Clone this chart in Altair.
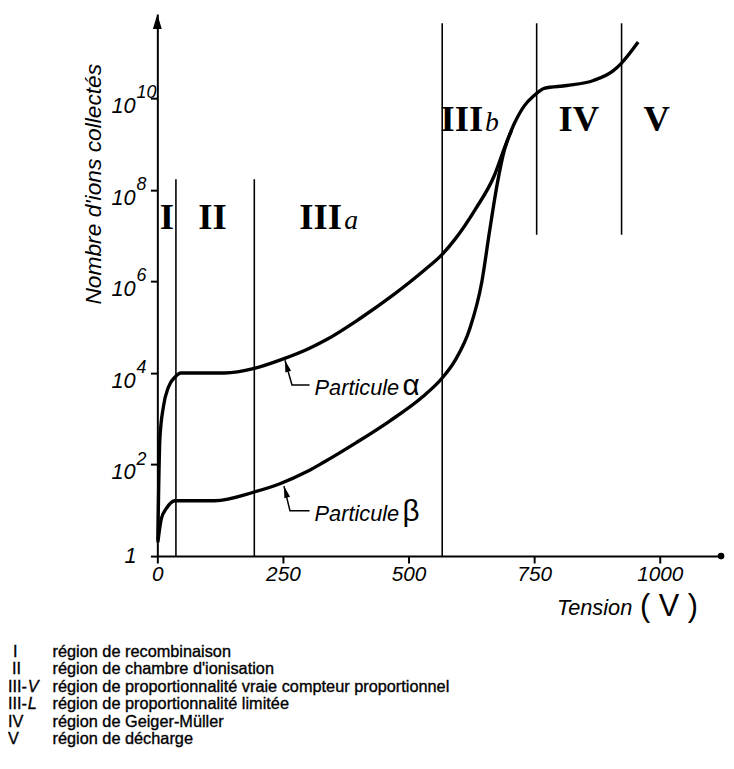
import altair as alt
import pandas as pd

# ---------------- data ----------------
# Tension (V) and log10 of "Nombre d'ions collectés"
alpha_v = [1, 5, 12, 22, 35, 47, 134, 193, 244, 303, 337, 402, 469, 533, 567,
           593, 632, 671, 691, 711, 730, 750, 770, 815, 868, 907, 923, 957]
alpha_e = [0.35, 2.55, 3.26, 3.69, 3.91, 4.00, 4.00, 4.10, 4.28, 4.54, 4.73, 5.18,
           5.70, 6.26, 6.59, 6.93, 7.56, 8.32, 8.92, 9.46, 9.83, 10.06, 10.22,
           10.28, 10.39, 10.60, 10.76, 11.23]

beta_v = [1, 8, 18, 35, 114, 193, 244, 297, 331, 396, 461, 528, 567, 593,
          622, 646, 661, 677, 691, 705]
beta_e = [0.30, 0.82, 1.04, 1.21, 1.21, 1.40, 1.58, 1.84, 2.05, 2.48, 2.94,
          3.48, 3.89, 4.28, 4.97, 6.00, 7.08, 8.16, 8.88, 9.30]

# region boundaries (V) with top / bottom (log10)
bound_v = [37, 193, 567, 755, 924]
bound_top = [8.23, 8.23, 11.64, 11.64, 11.64]
bound_bot = [0, 0, 0, 7.02, 7.02]

# region labels
reg_text = ["I", "II", "III", "III", "IV", "V"]
reg_v = [19, 110, 325, 606, 839, 994]
reg_e = [7.15, 7.15, 7.15, 9.29, 9.29, 9.29]
sub_text = ["a", "b"]
sub_v = [372, 652]
sub_e = [7.15, 9.29]

# curve annotations: arrow tip, elbow, end of leader (V, log10)
lead_alpha_v = [254, 268, 303]
lead_alpha_e = [4.28, 3.74, 3.74]
lead_beta_v = [252, 264, 303]
lead_beta_e = [1.53, 0.99, 0.99]
ann_v = [313, 313]
ann_e = [3.53, 0.756]
ann_sym = ["α", "β"]
ann_sym_v = [488, 488]

x_ticks = [0, 250, 500, 750, 1000]
y_exps = [2, 4, 6, 8, 10]

legend_codes = ["I", "II", "III-", "III-", "IV", "V"]
legend_italic = ["", "", "V", "L", "", ""]
legend_texts = [
    "région de recombinaison",
    "région de chambre d'ionisation",
    "région de proportionnalité vraie compteur proportionnel",
    "région de proportionnalité limitée",
    "région de Geiger-Müller",
    "région de décharge",
]

X_MAX = 1122
E_MAX = 11.84

NARROW = "Liberation Sans Narrow, Liberation Sans, sans-serif"
SANS = "Liberation Sans, Arial, sans-serif"
SERIF = "Liberation Serif, Times New Roman, serif"

# ---------------- tables ----------------
curves = pd.DataFrame(
    [{"serie": "alpha", "V": v, "N": 10 ** e} for v, e in zip(alpha_v, alpha_e)]
    + [{"serie": "beta", "V": v, "N": 10 ** e} for v, e in zip(beta_v, beta_e)]
)
bounds = pd.DataFrame({"V": bound_v, "N": [10 ** e for e in bound_top],
                       "N2": [10 ** e for e in bound_bot]})
regions = pd.DataFrame({"V": reg_v, "N": [10 ** e for e in reg_e], "t": reg_text})
subs = pd.DataFrame({"V": sub_v, "N": [10 ** e for e in sub_e], "t": sub_text})
leaders = pd.DataFrame(
    [{"s": "a", "k": i, "V": v, "N": 10 ** e} for i, (v, e) in enumerate(zip(lead_alpha_v, lead_alpha_e))]
    + [{"s": "b", "k": i, "V": v, "N": 10 ** e} for i, (v, e) in enumerate(zip(lead_beta_v, lead_beta_e))]
)
tips = pd.DataFrame({"V": [lead_alpha_v[0], lead_beta_v[0]],
                     "N": [10 ** lead_alpha_e[0], 10 ** lead_beta_e[0]]})
ann = pd.DataFrame({"V": ann_v, "N": [10 ** e for e in ann_e], "t": ["Particule"] * 2})
annsym = pd.DataFrame({"V": ann_sym_v, "N": [10 ** e for e in ann_e], "t": ann_sym})
ylab = pd.DataFrame({"N": [10 ** e for e in y_exps], "b": ["10"] * len(y_exps),
                     "p": [str(e) for e in y_exps]})
one = pd.DataFrame({"N": [1], "t": ["1"]})
axis_end = pd.DataFrame({"V": [0, X_MAX], "N": [10 ** E_MAX, 1]})

# legend placement (pixels relative to the plot origin)
LEG_TOP = 650
LEG_STEP = 17.6
CODE_X = {"I": -146, "II": -147}
leg = pd.DataFrame({
    "code": legend_codes,
    "it": legend_italic,
    "txt": legend_texts,
    "cx": [CODE_X.get(c, -151) for c in legend_codes],
    "py": [LEG_TOP + i * LEG_STEP for i in range(len(legend_texts))],
})

# ---------------- scales / encodings ----------------
xs = alt.Scale(domain=[0, X_MAX], nice=False, zero=False)
ys = alt.Scale(type="log", domain=[1, 10 ** E_MAX], nice=False)

X = alt.X("V:Q", scale=xs, axis=alt.Axis(
    values=x_ticks, title=None, grid=False, domainColor="black", domainWidth=2,
    tickColor="black", tickWidth=2, tickSize=7, labelFont=NARROW, labelFontSize=21,
    labelFontStyle="italic", labelColor="black", labelFlush=False, labelPadding=1,
    labelOverlap=False, format="d"))
Y = alt.Y("N:Q", scale=ys, axis=alt.Axis(
    values=[1] + [10 ** e for e in y_exps], title=None, grid=False, labels=False,
    domainColor="black", domainWidth=2, tickColor="black", tickWidth=2, tickSize=7))

lines = alt.Chart(curves).mark_line(
    color="black", strokeWidth=3.4, interpolate="monotone", clip=False
).encode(x=X, y=Y, detail="serie:N", order="V:Q")

rules = alt.Chart(bounds).mark_rule(color="black", strokeWidth=1.6).encode(
    x=X, y=Y, y2="N2:Q")

reg_lab = alt.Chart(regions).mark_text(
    font=SERIF, fontWeight="bold", fontSize=37, align="center",
    baseline="alphabetic", color="black").encode(x=X, y=Y, text="t:N")
sub_lab = alt.Chart(subs).mark_text(
    font=SERIF, fontStyle="italic", fontSize=28, align="left",
    baseline="alphabetic", color="black").encode(x=X, y=Y, text="t:N")

lead = alt.Chart(leaders).mark_line(color="black", strokeWidth=1.5).encode(
    x=X, y=Y, detail="s:N", order="k:Q")
heads = alt.Chart(tips).mark_point(
    shape="M0,0L0.5,2L-0.5,2Z", size=144, filled=True, color="black",
    opacity=1, angle=344).encode(x=X, y=Y)
ann_lab = alt.Chart(ann).mark_text(
    font=NARROW, fontStyle="italic", fontSize=22, align="left",
    baseline="alphabetic", color="black").encode(x=X, y=Y, text="t:N")
ann_sym_lab = alt.Chart(annsym).mark_text(
    font=SANS, fontSize=30, align="left", baseline="alphabetic",
    color="black").encode(x=X, y=Y, text="t:N")

arrow = alt.Chart(axis_end.iloc[[0]]).mark_point(
    shape="M0,0L0.6,2L-0.6,2Z", size=225, filled=True, color="black",
    opacity=1).encode(x=X, y=Y)
dot = alt.Chart(axis_end.iloc[[1]]).mark_point(
    shape="circle", size=45, filled=True, color="black", opacity=1).encode(x=X, y=Y)

ybase = alt.Chart(ylab).mark_text(
    font=NARROW, fontStyle="italic", fontSize=22, align="right",
    baseline="alphabetic", dy=15, color="black").encode(
    x=alt.value(-22), y=Y, text="b:N")
yexp = alt.Chart(ylab).mark_text(
    font=NARROW, fontStyle="italic", fontSize=18, align="left",
    baseline="alphabetic", dy=0, color="black").encode(
    x=alt.value(-21), y=Y, text="p:N")
yone = alt.Chart(one).mark_text(
    font=NARROW, fontStyle="italic", fontSize=22, align="right",
    baseline="middle", color="black").encode(
    x=alt.value(-21), y=Y, text="t:N")

ytitle = alt.Chart(one).mark_text(
    text="Nombre d'ions collectés", font=NARROW, fontStyle="italic",
    fontSize=23, angle=270, align="center", baseline="middle",
    color="black").encode(x=alt.value(-64), y=alt.value(172))
xtitle = alt.Chart(one).mark_text(
    text="Tension", font=NARROW, fontStyle="italic", fontSize=22,
    align="left", baseline="alphabetic", color="black").encode(
    x=alt.value(404), y=alt.value(608))
xunit = alt.Chart(one).mark_text(
    text="( V )", font=SANS, fontSize=31, align="left",
    baseline="alphabetic", color="black").encode(
    x=alt.value(488), y=alt.value(609))

leg_style = dict(font=SANS, fontSize=16.5, baseline="alphabetic", color="black",
                 stroke="black", strokeWidth=0.35, align="left")
leg_code = alt.Chart(leg).mark_text(**leg_style).encode(
    x=alt.X("cx:Q", scale=None), y=alt.Y("py:Q", scale=None), text="code:N")
leg_it = alt.Chart(leg).mark_text(fontStyle="italic", **leg_style).encode(
    x=alt.value(-131), y=alt.Y("py:Q", scale=None), text="it:N")
leg_txt = alt.Chart(leg).mark_text(**leg_style).encode(
    x=alt.value(-106), y=alt.Y("py:Q", scale=None), text="txt:N")

chart = alt.layer(
    rules, lines, lead, heads, reg_lab, sub_lab, ann_lab, ann_sym_lab,
    arrow, dot, ybase, yexp, yone, ytitle, xtitle, xunit,
    leg_code, leg_it, leg_txt,
).properties(
    width=570, height=548,
    background="white",
    autosize=alt.AutoSizeParams(type="none"),
    padding={"left": 151, "top": 2, "right": 5, "bottom": 203},
).configure_view(stroke=None)

chart.save("out.html", embed_options={"renderer": "svg", "actions": False})
